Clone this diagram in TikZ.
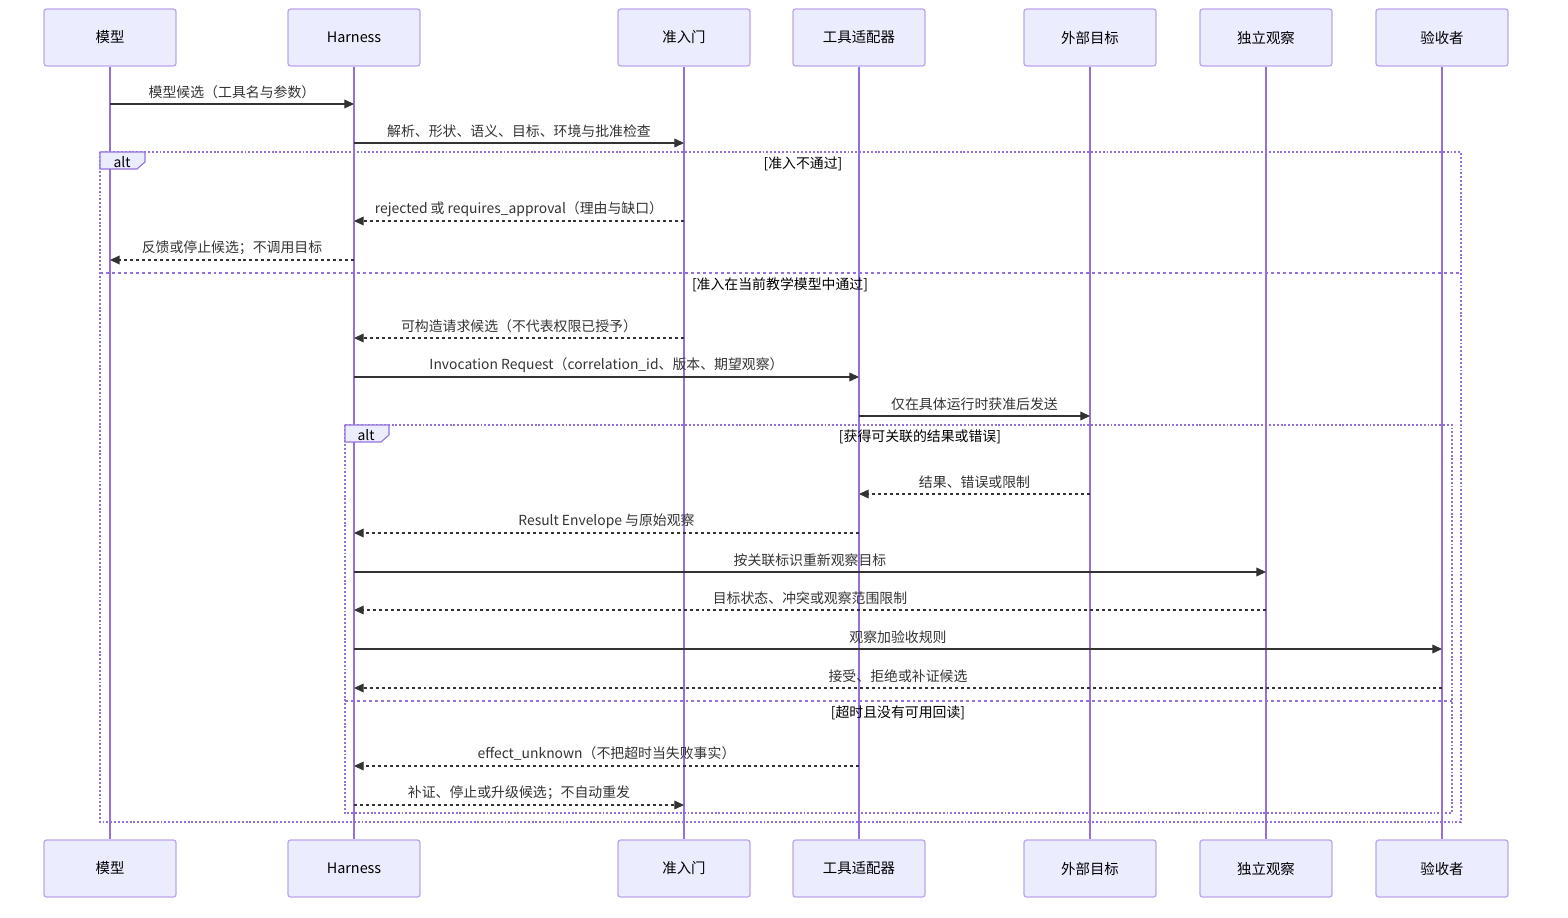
\documentclass[tikz,border=0pt]{standalone}
\usepackage{fontspec}
\setmainfont{Noto Sans CJK SC}
\usetikzlibrary{arrows.meta}
\definecolor{actfill}{HTML}{ECECFF}
\definecolor{actline}{HTML}{BBA4EC}
\definecolor{life}{HTML}{9370DB}
\definecolor{msgc}{HTML}{333333}
\tikzset{
  actor/.style={draw=actline, fill=actfill, rounded corners=1.5pt, line width=0.7pt,
    minimum width=2.64cm, minimum height=1.14cm, font=\fontsize{8.2}{10}\selectfont},
  lifeline/.style={draw=life, line width=1.1pt},
  msg/.style={draw=msgc, line width=0.6pt, -{Triangle[length=5.5pt,width=5pt]}},
  reply/.style={msg, dash pattern=on 1.7pt off 1.7pt},
  lbl/.style={midway, yshift=6.9pt, text=msgc, font=\fontsize{7.9}{9}\selectfont},
  altbox/.style={draw=life, line width=0.8pt, dash pattern=on 1.1pt off 1.1pt},
  altsep/.style={draw=life, line width=0.8pt, dash pattern=on 1.7pt off 1.7pt},
  alttab/.style={draw=life, fill=actfill, line width=0.6pt},
  cond/.style={font=\fontsize{7.9}{9}\selectfont}
}
\begin{document}
\begin{tikzpicture}[x=0.02cm, y=-0.02cm]
    \useasboundingbox (0,0) rectangle (1568,918);
    % participants, top and bottom, with their lifelines
    \foreach \n/\x/\t in {mo/110/模型, ha/354/Harness, gt/684/准入门, ad/859/工具适配器,
                          tg/1090/外部目标, ob/1266/独立观察, ac/1442/验收者} {
        \node[actor] (\n-t) at (\x,37.5) {\t};
        \node[actor] (\n-b) at (\x,868.5) {\t};
        \draw[lifeline] (\n-t) -- (\n-b);
    }
    \draw[msg] (mo-t |- 0,104) -- node[lbl] {模型候选（工具名与参数）} (ha-t |- 0,104);
    \draw[msg] (ha-t |- 0,143) -- node[lbl] {解析、形状、语义、目标、环境与批准检查} (gt-t |- 0,143);
    % outer alt
    \draw[altbox] (100,152) rectangle (1461,822);
    \draw[alttab] (100,152) -- (145,152) -- (145,162) -- (137,169) -- (100,169) -- cycle;
    \node[cond] (alt1) at (122,162) {alt};
    \node[cond] (c1) at (803,164) {[准入不通过]};
    \draw[reply] (gt-t |- 0,221) -- node[lbl] {rejected 或 requires\_approval（理由与缺口）} (ha-t |- 0,221);
    \draw[reply] (ha-t |- 0,260) -- node[lbl] {反馈或停止候选；不调用目标} (mo-t |- 0,260);
    \draw[altsep] (100,273) -- (1461,273);
    \node[cond] (c2) at (780,285) {[准入在当前教学模型中通过]};
    \draw[reply] (gt-t |- 0,338) -- node[lbl] {可构造请求候选（不代表权限已授予）} (ha-t |- 0,338);
    \draw[msg] (ha-t |- 0,377) -- node[lbl] {Invocation Request（correlation\_id、版本、期望观察）} (ad-t |- 0,377);
    \draw[msg] (ad-t |- 0,416) -- node[lbl] {仅在具体运行时获准后发送} (tg-t |- 0,416);
    % inner alt
    \draw[altbox] (345,425) rectangle (1452,813);
    \draw[alttab] (345,425) -- (389,425) -- (389,435) -- (381,442) -- (345,442) -- cycle;
    \node[cond] (alt2) at (366,435) {alt};
    \node[cond] (c3) at (920,437) {[获得可关联的结果或错误]};
    \draw[reply] (tg-t |- 0,494) -- node[lbl] {结果、错误或限制} (ad-t |- 0,494);
    \draw[reply] (ad-t |- 0,533) -- node[lbl] {Result Envelope 与原始观察} (ha-t |- 0,533);
    \draw[msg] (ha-t |- 0,572) -- node[lbl] {按关联标识重新观察目标} (ob-t |- 0,572);
    \draw[reply] (ob-t |- 0,610) -- node[lbl] {目标状态、冲突或观察范围限制} (ha-t |- 0,610);
    \draw[msg] (ha-t |- 0,649) -- node[lbl] {观察加验收规则} (ac-t |- 0,649);
    \draw[reply] (ac-t |- 0,688) -- node[lbl] {接受、拒绝或补证候选} (ha-t |- 0,688);
    \draw[altsep] (345,701) -- (1452,701);
    \node[cond] (c4) at (898,713) {[超时且没有可用回读]};
    \draw[reply] (ad-t |- 0,766) -- node[lbl] {effect\_unknown（不把超时当失败事实）} (ha-t |- 0,766);
    \draw[reply] (ha-t |- 0,805) -- node[lbl] {补证、停止或升级候选；不自动重发} (gt-t |- 0,805);
\end{tikzpicture}
\end{document}
